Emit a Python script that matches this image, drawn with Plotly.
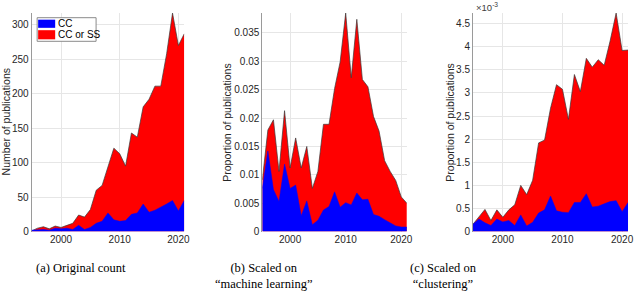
import plotly.graph_objects as go

years = list(range(1995, 2022))

# (a) Original count
count_cc = [2, 3, 3, 2, 5, 4, 5, 3, 9, 3, 6, 12, 15, 27, 17, 15, 16, 25, 27, 40, 28, 31, 35, 40, 45, 30, 45]
count_cc_or_ss = [1, 5, 7, 4, 8, 6, 9, 12, 24, 21, 32, 60, 67, 94, 121, 113, 95, 143, 137, 181, 192, 211, 211, 258, 317, 270, 287]

# (b) Scaled on "machine learning"
ml_cc = [0.0076, 0.0142, 0.0074, 0.0053, 0.0119, 0.0076, 0.0082, 0.0028, 0.0054, 0.0012, 0.0020,
         0.0038, 0.0044, 0.0070, 0.0043, 0.0051, 0.0047, 0.0068, 0.0056, 0.0057, 0.0030, 0.0027,
         0.0021, 0.0015, 0.0010, 0.0008, 0.0008]
ml_cc_or_ss = [0.0091, 0.0179, 0.0197, 0.0106, 0.0213, 0.0112, 0.0165, 0.0112, 0.0150, 0.0076, 0.0106,
               0.0189, 0.0189, 0.0252, 0.0299, 0.0385, 0.0271, 0.0374, 0.0268, 0.0255, 0.0203, 0.0177,
               0.0125, 0.0106, 0.0090, 0.0061, 0.0050]

# (c) Scaled on "clustering"  (values in units of 1e-3)
cl_cc = [0.16, 0.27, 0.19, 0.13, 0.27, 0.21, 0.24, 0.13, 0.36, 0.12, 0.20, 0.40, 0.47, 0.77, 0.45,
         0.42, 0.41, 0.63, 0.63, 0.82, 0.53, 0.55, 0.60, 0.65, 0.67, 0.43, 0.63]
cl_cc_or_ss = [0.16, 0.33, 0.48, 0.24, 0.47, 0.31, 0.47, 0.58, 1.00, 0.80, 1.11, 1.92, 1.98, 2.67, 3.18,
               3.08, 2.43, 3.40, 3.03, 3.75, 3.56, 3.72, 3.60, 4.13, 4.73, 3.92, 3.93]

series_names = ["CC", "CC or SS"]
x_ticks = [2000, 2010, 2020]
a_ticks = [0, 50, 100, 150, 200, 250, 300]
b_ticks = [0, 0.005, 0.01, 0.015, 0.02, 0.025, 0.03, 0.035]
b_ticklabels = ["0", "0.005", "0.01", "0.015", "0.02", "0.025", "0.03", "0.035"]
c_ticks = [0, 0.5, 1, 1.5, 2, 2.5, 3, 3.5, 4, 4.5]
c_ticklabels = ["0", "0.5", "1", "1.5", "2", "2.5", "3", "3.5", "4", "4.5"]
y_titles = ["Number of publications", "Proportion of publications", "Proportion of publications"]
captions = ["(a) Original count", "(b) Scaled on<br>“machine learning”", "(c) Scaled on<br>“clustering”"]

RED = "#ff0000"
BLUE = "#0000ff"
W, H = 640, 300


def px(x):
    return x / W


def py(y):
    return 1 - y / H


fig = go.Figure()
panels = [(count_cc, count_cc_or_ss), (ml_cc, ml_cc_or_ss), (cl_cc, cl_cc_or_ss)]
for i, (cc, tot) in enumerate(panels):
    suffix = "" if i == 0 else str(i + 1)
    fig.add_trace(go.Scatter(x=years, y=tot, mode="lines", fill="tozeroy", fillcolor=RED,
                             line=dict(color="#3a3a3a", width=0.7), name=series_names[1],
                             showlegend=False, xaxis="x" + suffix, yaxis="y" + suffix,
                             hoverinfo="skip"))
    fig.add_trace(go.Scatter(x=years, y=cc, mode="lines", fill="tozeroy", fillcolor=BLUE,
                             line=dict(color=BLUE, width=0.5), name=series_names[0],
                             showlegend=False, xaxis="x" + suffix, yaxis="y" + suffix,
                             hoverinfo="skip"))

ybot = py(235.5)
ytop = py(13.3)
xdoms = [(px(32.0), px(186.0)), (px(264.8), px(410.7)), (px(477.5), px(634.0))]
tickfont = dict(family="Liberation Sans, Arial, sans-serif", size=10, color="#262626")
grid = "#e6e6e6"

yspecs = [
    dict(range=[0, max(count_cc_or_ss)], tickvals=a_ticks),
    dict(range=[0, max(ml_cc_or_ss)], tickvals=b_ticks, ticktext=b_ticklabels),
    dict(range=[0, max(cl_cc_or_ss)], tickvals=c_ticks, ticktext=c_ticklabels),
]
layout = {}
for i in range(3):
    suffix = "" if i == 0 else str(i + 1)
    layout["xaxis" + suffix] = dict(
        domain=list(xdoms[i]), anchor="y" + suffix, range=[years[0], years[-1]],
        tickvals=x_ticks, showgrid=True, gridcolor=grid, gridwidth=1, zeroline=False,
        showline=False, ticks="", tickfont=tickfont, layer="below traces", fixedrange=True)
    layout["yaxis" + suffix] = dict(
        domain=[ybot, ytop], anchor="x" + suffix, showgrid=True, gridcolor=grid, gridwidth=1,
        zeroline=False, showline=True, linecolor="#9a9a9a", linewidth=1, ticks="",
        tickfont=tickfont, layer="below traces", fixedrange=True, **yspecs[i])

fig.update_layout(width=W, height=H, margin=dict(l=0, r=0, t=0, b=0),
                  paper_bgcolor="white", plot_bgcolor="white", showlegend=False, **layout)

sans = "Liberation Sans, Arial, sans-serif"
annotations = []
title_x = [5.5, 229.0, 454.0]
for i in range(3):
    annotations.append(dict(x=px(title_x[i]), y=py(124), xref="paper", yref="paper",
                            text=y_titles[i], textangle=-90, showarrow=False,
                            font=dict(family=sans, size=10.5, color="#262626"),
                            xanchor="center", yanchor="middle"))
cap_x = [82, 266, 448]
for i in range(3):
    annotations.append(dict(x=px(cap_x[i]), y=py(263), xref="paper", yref="paper",
                            text=captions[i], showarrow=False, align="center",
                            font=dict(family="Liberation Serif, Times New Roman, serif", size=12.5,
                                      color="#000000"),
                            xanchor="center", yanchor="top"))
annotations.append(dict(x=px(478), y=py(7), xref="paper", yref="paper",
                        text="×10<sup>-3</sup>", showarrow=False,
                        font=dict(family=sans, size=9.5, color="#404040"),
                        xanchor="left", yanchor="middle"))
# legend (panel a)
annotations.append(dict(x=px(56.5), y=py(24.2), xref="paper", yref="paper", text=series_names[0],
                        showarrow=False, font=dict(family=sans, size=10, color="#000000"),
                        xanchor="left", yanchor="middle"))
annotations.append(dict(x=px(56.5), y=py(35.3), xref="paper", yref="paper", text=series_names[1],
                        showarrow=False, font=dict(family=sans, size=10, color="#000000"),
                        xanchor="left", yanchor="middle"))
shapes = [
    dict(type="rect", xref="paper", yref="paper", x0=px(37.5), x1=px(97), y0=py(42), y1=py(18),
         line=dict(color="#8a8a8a", width=1), fillcolor="white", layer="above"),
    dict(type="rect", xref="paper", yref="paper", x0=px(38.5), x1=px(55.7), y0=py(28.3), y1=py(20),
         line=dict(width=0), fillcolor=BLUE, layer="above"),
    dict(type="rect", xref="paper", yref="paper", x0=px(38.5), x1=px(55.7), y0=py(40), y1=py(30.7),
         line=dict(width=0), fillcolor=RED, layer="above"),
]
fig.update_layout(annotations=annotations, shapes=shapes)

fig.write_html("out.html", config={"displayModeBar": False},
               post_script="document.body.style.margin='0px';")
